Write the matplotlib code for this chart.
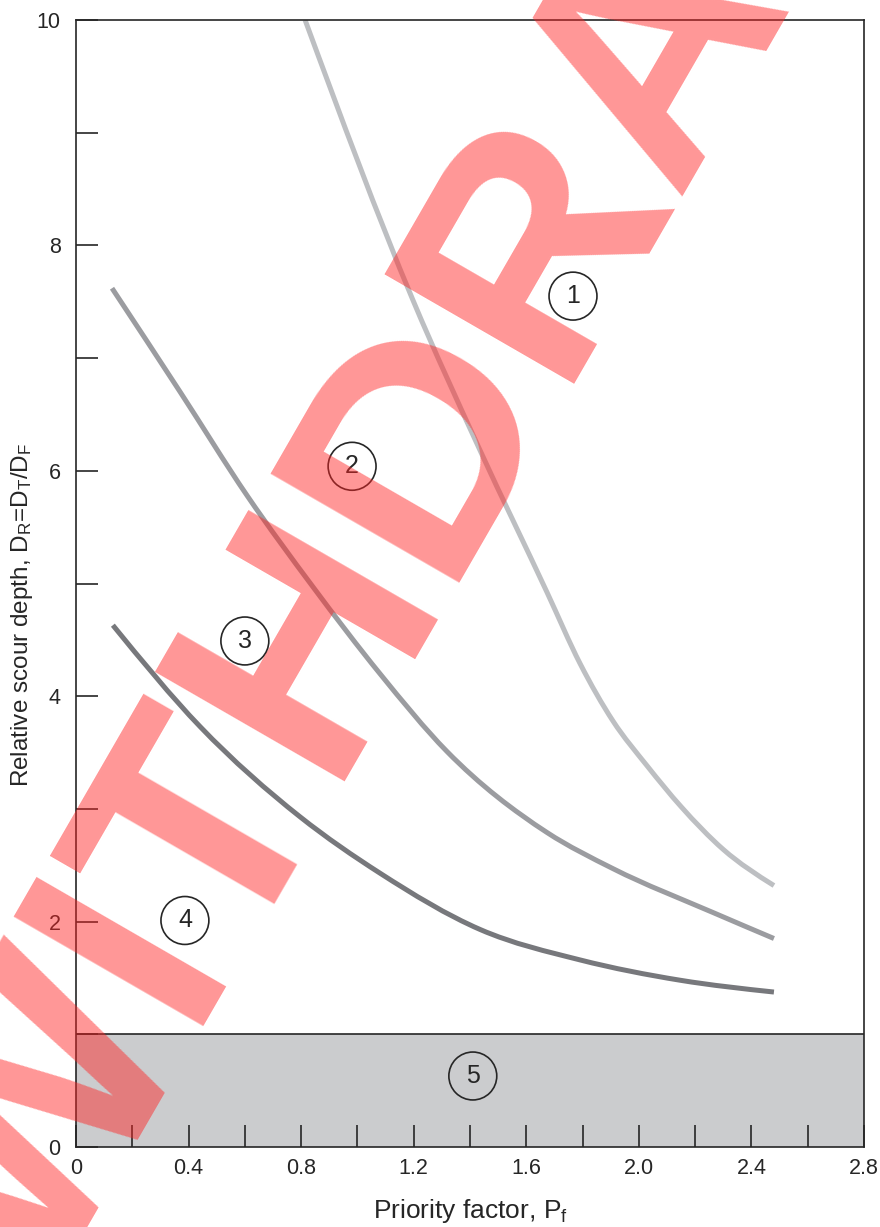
import matplotlib
matplotlib.use("Agg")
import matplotlib.pyplot as plt
import numpy as np
from matplotlib.path import Path
from matplotlib.patches import PathPatch, Rectangle
from matplotlib.transforms import IdentityTransform
from matplotlib.ticker import FixedLocator

plt.rcParams['font.family'] = ['Liberation Sans', 'DejaVu Sans']
plt.rcParams['mathtext.fontset'] = 'custom'
plt.rcParams['mathtext.rm'] = 'Liberation Sans'
plt.rcParams['mathtext.it'] = 'Liberation Sans:italic'

# ---- data ----
curve1_x = [0.814, 1.198, 1.436, 1.674, 1.791, 1.908, 2.03, 2.15, 2.30, 2.48]
curve1_y = [10.0, 7.51, 6.18, 4.92, 4.29, 3.78, 3.38, 3.02, 2.64, 2.32]
curve2_x = [0.128, 0.370, 0.608, 0.842, 1.080, 1.318, 1.674, 1.908, 2.264, 2.48]
curve2_y = [7.62, 6.70, 5.78, 4.97, 4.20, 3.51, 2.79, 2.47, 2.08, 1.85]
curve3_x = [0.131, 0.441, 0.796, 1.080, 1.436, 1.791, 2.146, 2.48]
curve3_y = [4.63, 3.73, 2.93, 2.43, 1.93, 1.66, 1.48, 1.375]

zone_labels = ['1', '2', '3', '4', '5']
zone_x = [1.766, 0.981, 0.600, 0.387, 1.41]
zone_y = [7.55, 6.04, 4.49, 2.01, 0.63]

shade_top = 1.0
x_ticklabels = ['0', '0.4', '0.8', '1.2', '1.6', '2.0', '2.4', '2.8']
y_ticklabels = ['0', '2', '4', '6', '8', '10']

watermark = 'WITHDRAWN'

# ---- figure ----
fig = plt.figure(figsize=(8.8, 12.27), dpi=100)
ax = fig.add_axes([76/880, 80/1227, 788/880, 1127/1227])
ax.set_xlim(0, 2.8)
ax.set_ylim(0, 10)

ink = '#262626'
for s in ax.spines.values():
    s.set_color(ink)
    s.set_linewidth(1.2)
    s.set_zorder(5)

ax.add_patch(Rectangle((0, 0), 2.8, shade_top, facecolor='#cbccce',
                       edgecolor='none', zorder=1))
ax.axhline(shade_top, color=ink, lw=1.2, zorder=4)


def smooth_path(xs, ys):
    """Cubic Hermite Bezier path through the read points (function of x)."""
    x = np.asarray(xs, float)
    y = np.asarray(ys, float)
    h = np.diff(x)
    d = np.diff(y) / h
    n = len(x)
    m = np.empty(n)
    m[1:-1] = (d[:-1] * h[1:] + d[1:] * h[:-1]) / (h[:-1] + h[1:])
    m[0] = d[0] + (d[0] - m[1]) * 0.5
    m[-1] = d[-1] + (d[-1] - m[-2]) * 0.5
    verts = [(x[0], y[0])]
    codes = [Path.MOVETO]
    for i in range(n - 1):
        verts += [(x[i] + h[i] / 3, y[i] + m[i] * h[i] / 3),
                  (x[i + 1] - h[i] / 3, y[i + 1] - m[i + 1] * h[i] / 3),
                  (x[i + 1], y[i + 1])]
        codes += [Path.CURVE4] * 3
    return Path(verts, codes)


for xs, ys, col in [(curve1_x, curve1_y, '#bdbfc2'),
                    (curve2_x, curve2_y, '#9b9ca0'),
                    (curve3_x, curve3_y, '#77787c')]:
    patch = PathPatch(smooth_path(xs, ys), facecolor='none', edgecolor=col,
                      lw=3.6, capstyle='butt', zorder=3)
    ax.add_patch(patch)

ax.scatter(zone_x, zone_y, s=34.5**2, facecolors='none', edgecolors=ink,
           linewidths=1.2, zorder=6)
for lab, x, y in zip(zone_labels, zone_x, zone_y):
    ax.text(x, y, lab, ha='center', va='center', fontsize=18, color=ink, zorder=7)

ax.xaxis.set_major_locator(FixedLocator(np.arange(0, 2.81, 0.4)))
ax.xaxis.set_minor_locator(FixedLocator(np.arange(0.2, 2.8, 0.4)))
ax.set_xticklabels(x_ticklabels)
ax.yaxis.set_major_locator(FixedLocator(np.arange(0, 10.1, 2)))
ax.yaxis.set_minor_locator(FixedLocator(np.arange(1, 10, 2)))
ax.set_yticklabels(y_ticklabels)
ax.tick_params(which='both', direction='in', length=15.5, width=1.2,
               color=ink, top=False, right=False, zorder=6)
ax.tick_params(axis='x', which='major', labelsize=15.5, pad=8, labelcolor=ink)
ax.tick_params(axis='y', which='major', labelsize=15.5, pad=11, labelcolor=ink)

ax.set_xlabel('Priority factor, $\\mathregular{P_f}$', fontsize=19, color=ink)
ax.xaxis.set_label_coords(0.5, -0.044)
ax.set_ylabel('Relative scour depth, $\\mathregular{D_R}$=$\\mathregular{D_T/D_F}$',
              fontsize=17.5, color=ink)
ax.yaxis.set_label_coords(-0.052, 0.472)

fig.text(43, -75.5, watermark, transform=IdentityTransform(), fontsize=229,
         fontweight='bold', family='Liberation Sans', rotation=60,
         rotation_mode='anchor', ha='left', va='baseline',
         color='#ff2424', alpha=0.48, zorder=20)

fig.savefig('out.png', dpi=100)
